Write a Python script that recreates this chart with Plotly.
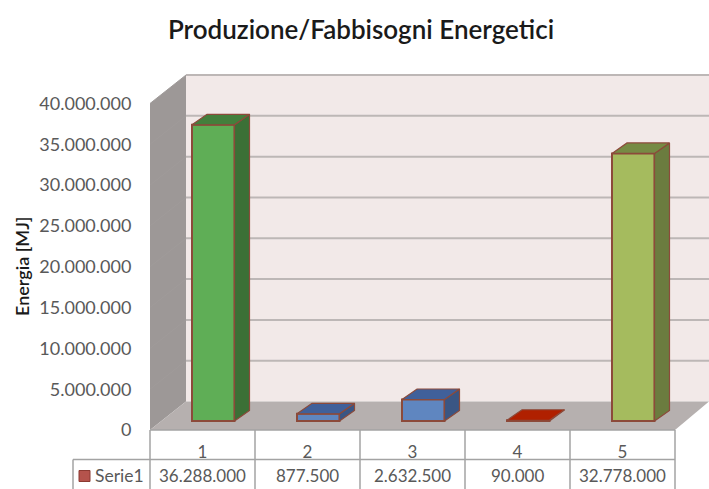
import plotly.graph_objects as go

categories = [1, 2, 3, 4, 5]
values = [36288000, 877500, 2632500, 90000, 32778000]
value_labels = ["36.288.000", "877.500", "2.632.500", "90.000", "32.778.000"]
y_ticks = [0, 5000000, 10000000, 15000000, 20000000, 25000000, 30000000, 35000000, 40000000]
y_labels = ["0", "5.000.000", "10.000.000", "15.000.000", "20.000.000", "25.000.000", "30.000.000", "35.000.000", "40.000.000"]
front_colors = ["#5FAE56", "#5F86C0", "#5F86C0", "#B02A08", "#A5BB5E"]
top_colors = ["#437F3C", "#40609A", "#40609A", "#B02000", "#768B44"]
side_colors = ["#3B7036", "#3A5684", "#3A5684", "#A02000", "#6B7C3F"]
series_name = "Serie1"
title_text = "Produzione/Fabbisogni Energetici"
y_title = "Energia [MJ]"

W, H = 709, 489
FONT = "Lato"
TXT = "#595959"
EDGE = "#8C4A3A"
TABLE = "#A3A3A3"

CAT_PX = 105.0
UNIT_PX = 326.5 / 40000000
x_range = [(0 - 150) / CAT_PX + 0.5, (W - 150) / CAT_PX + 0.5]
y_range = [(430 - H) / UNIT_PX, 430 / UNIT_PX]
dx = lambda px: px / CAT_PX
dy = lambda px: px / UNIT_PX

WALL_DX, WALL_DY = dx(36), dy(28.5)
LEFT, RIGHT = 0.5, 5.5
FAR_RIGHT = x_range[1]
BAR_W, BAR_DX, BAR_DY = dx(42.5), dx(15), dy(10.5)
BAR_OX, BAR_OY = dx(10.75), dy(9)


def poly(xs, ys):
    return "M " + " L ".join(f"{a},{b}" for a, b in zip(xs, ys)) + " Z"


shapes = []
shapes.append(dict(type="path", xref="x", yref="y", layer="below", line=dict(width=0), fillcolor="#9D9897",
                   path=poly([LEFT, LEFT + WALL_DX, LEFT + WALL_DX, LEFT],
                             [0, WALL_DY, y_ticks[-1] + WALL_DY, y_ticks[-1]])))
shapes.append(dict(type="path", xref="x", yref="y", layer="below", line=dict(width=0), fillcolor="#F2E9E8",
                   path=poly([LEFT + WALL_DX, FAR_RIGHT, FAR_RIGHT, LEFT + WALL_DX],
                             [WALL_DY, WALL_DY, y_ticks[-1] + WALL_DY, y_ticks[-1] + WALL_DY])))
shapes.append(dict(type="path", xref="x", yref="y", layer="below", line=dict(width=0), fillcolor="#B6B0AF",
                   path=poly([LEFT, LEFT + WALL_DX, FAR_RIGHT, RIGHT], [0, WALL_DY, WALL_DY, 0])))
for t in y_ticks[1:]:
    shapes.append(dict(type="line", xref="x", yref="y", layer="below", line=dict(color="#A09B9A", width=1),
                       x0=LEFT, y0=t, x1=LEFT + WALL_DX, y1=t + WALL_DY))
    shapes.append(dict(type="line", xref="x", yref="y", layer="below", line=dict(color="#BDB7B6", width=2),
                       x0=LEFT + WALL_DX, y0=t + WALL_DY, x1=FAR_RIGHT, y1=t + WALL_DY))

row1 = -dy(29.5)
tbl = dict(type="line", xref="x", yref="y", line=dict(color=TABLE, width=1.5))
shapes.append(dict(tbl, x0=LEFT, x1=RIGHT, y0=0, y1=0))
legend_left = 0.5 - dx(77)
shapes.append(dict(tbl, x0=legend_left, x1=RIGHT, y0=row1, y1=row1))
shapes.append(dict(tbl, x0=legend_left, x1=legend_left, y0=row1, y1=y_range[0]))
for i in range(len(categories) + 1):
    shapes.append(dict(tbl, x0=LEFT + i, x1=LEFT + i, y0=0, y1=y_range[0]))
shapes.append(dict(type="rect", xref="x", yref="y", fillcolor="#B5534C", line=dict(color="#8C3A32", width=1),
                   x0=legend_left + dx(6), x1=legend_left + dx(17),
                   y0=row1 - dy(11), y1=row1 - dy(22)))

fig = go.Figure()

fig.add_trace(go.Bar(
    x=[c + BAR_OX for c in categories], y=values, base=BAR_OY, width=BAR_W,
    marker=dict(color=front_colors, line=dict(color=EDGE, width=2)),
    showlegend=False, hoverinfo="skip"))

for c, v, tc, sc in zip(categories, values, top_colors, side_colors):
    x0 = c + BAR_OX - BAR_W / 2
    x1 = c + BAR_OX + BAR_W / 2
    y0 = BAR_OY
    y1 = BAR_OY + v
    fig.add_trace(go.Scatter(
        x=[x1, x1 + BAR_DX, x1 + BAR_DX, x1, x1], y=[y0, y0 + BAR_DY, y1 + BAR_DY, y1, y0],
        mode="lines", fill="toself", fillcolor=sc, line=dict(color=EDGE, width=1.2),
        showlegend=False, hoverinfo="skip"))
    fig.add_trace(go.Scatter(
        x=[x0, x1, x1 + BAR_DX, x0 + BAR_DX, x0], y=[y1, y1, y1 + BAR_DY, y1 + BAR_DY, y1],
        mode="lines", fill="toself", fillcolor=tc, line=dict(color=EDGE, width=1.2),
        showlegend=False, hoverinfo="skip"))

annotations = [dict(x=c, y=row1 - dy(16), xref="x", yref="y", text=t, showarrow=False,
                    font=dict(family=FONT, size=17, color=TXT))
               for c, t in zip(categories, value_labels)]
annotations.append(dict(x=legend_left + dx(20), y=row1 - dy(16), xref="x", yref="y", text=series_name,
                        xanchor="left", showarrow=False, font=dict(family=FONT, size=17.5, color=TXT)))
annotations.append(dict(x=22 / W, y=1 - 267 / H, xref="paper", yref="paper", text=y_title, textangle=-90,
                        xanchor="center", yanchor="middle",
                        showarrow=False, font=dict(family=FONT, size=18, color="#1a1a1a", weight=600)))

fig.update_layout(
    width=W, height=H, autosize=False,
    margin=dict(l=0, r=0, t=0, b=0),
    paper_bgcolor="white", plot_bgcolor="white",
    showlegend=False,
    title=dict(text=title_text, x=361 / W, xanchor="center", y=1 - 30 / H, yanchor="middle",
               font=dict(family=FONT, size=26, color="#1a1a1a", weight=600)),
    xaxis=dict(range=x_range, domain=[0, 1], anchor="free", position=(H - 430) / H,
               tickmode="array", tickvals=categories, ticktext=[str(c) for c in categories],
               ticks="outside", ticklen=7, tickcolor="rgba(0,0,0,0)", showgrid=False, zeroline=False,
               showline=False, tickfont=dict(family=FONT, size=17, color=TXT), fixedrange=True),
    yaxis=dict(range=y_range, domain=[0, 1], anchor="free", position=150 / W,
               tickmode="array", tickvals=y_ticks, ticktext=y_labels,
               ticks="outside", ticklen=15, tickcolor="rgba(0,0,0,0)", showgrid=False, zeroline=False,
               showline=False, tickfont=dict(family=FONT, size=18, color=TXT), fixedrange=True),
    shapes=shapes, annotations=annotations,
)
fig.write_html("out.html", config=dict(displayModeBar=False),
               post_script="document.body.style.margin='0';document.documentElement.style.overflow='hidden';")
